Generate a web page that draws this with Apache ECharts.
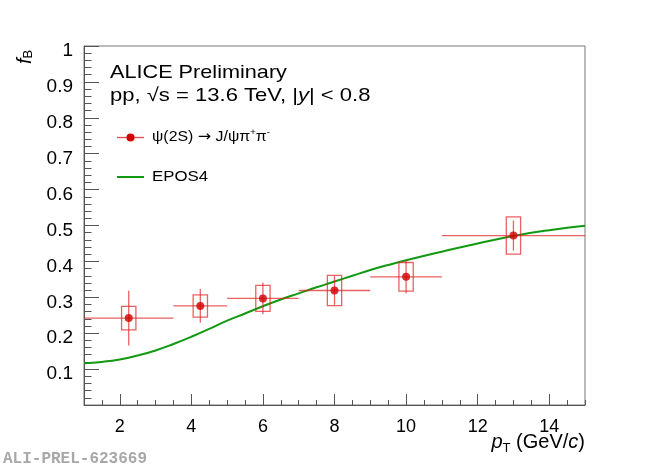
<!DOCTYPE html>
<html>
<head>
<meta charset="utf-8">
<script src="https://cdn.jsdelivr.net/npm/echarts@6/dist/echarts.min.js"></script>
<style>
html,body{margin:0;padding:0;background:#fff;}
#chart{width:650px;height:467px;}
</style>
</head>
<body>
<div id="chart"></div>
<script>
// ---- data ----
const ptCenter = [2.25, 4.25, 6, 8, 10, 13];
const ptLow    = [1, 3.5, 5, 7, 9, 11];
const ptHigh   = [3.5, 5, 7, 9, 11, 15];
const fB       = [0.242, 0.276, 0.297, 0.319, 0.357, 0.472];
const statErr  = [0.076, 0.047, 0.044, 0.040, 0.046, 0.042];
const systErr  = [0.033, 0.031, 0.036, 0.042, 0.040, 0.052];

const eposPt = [1, 1.5, 2, 2.5, 3, 3.5, 4, 4.5, 5, 5.5, 6, 6.5, 7, 7.5, 8, 8.5, 9, 9.5, 10, 11, 12, 13, 14, 15];
const eposFB = [0.116, 0.120, 0.127, 0.138, 0.152, 0.170, 0.190, 0.212, 0.235, 0.255, 0.275, 0.294, 0.311, 0.328, 0.344, 0.360, 0.376, 0.390, 0.403, 0.427, 0.450, 0.471, 0.487, 0.499];

const xMajorTicks = [2, 4, 6, 8, 10, 12, 14];
const yTickLabels = ['0.1','0.2','0.3','0.4','0.5','0.6','0.7','0.8','0.9','1'];

// ---- build ----
const FONT = '"Liberation Sans", Arial, Helvetica, sans-serif';
const axisCol = '#555';
const errCol = 'rgba(225,30,30,0.7)';
const markCol = '#d00000';
const green = '#119911';

const errData = ptCenter.map((x, i) => [x, fB[i], ptLow[i], ptHigh[i], statErr[i], systErr[i]]);
const markData = ptCenter.map((x, i) => [x, fB[i]]);
const eposData = eposPt.map((x, i) => [x, eposFB[i]]);

const chart = echarts.init(document.getElementById('chart'), null, {renderer: 'canvas'});

const option = {
  animation: false,
  backgroundColor: '#fff',
  grid: {left: 84, right: 65, top: 46, bottom: 62, show: true, borderColor: '#777', borderWidth: 1, backgroundColor: 'transparent'},
  xAxis: [
    {
      type: 'value', min: 1, max: 15, interval: 0.5, position: 'bottom',
      axisLine: {show: true, onZero: false, lineStyle: {color: axisCol, width: 1}},
      axisTick: {show: true, inside: true, length: 5, lineStyle: {color: axisCol}},
      axisLabel: {show: false},
      splitLine: {show: false}
    },
    {
      type: 'value', min: 1, max: 15, position: 'bottom',
      axisLine: {show: false, onZero: false},
      axisTick: {show: true, inside: true, length: 11, customValues: xMajorTicks, lineStyle: {color: axisCol}},
      axisLabel: {show: true, customValues: xMajorTicks, color: '#000', fontSize: 18, fontFamily: FONT, margin: 13},
      splitLine: {show: false}
    }
  ],
  yAxis: {
    type: 'value', min: 0, max: 1, interval: 0.1,
    axisLine: {show: true, onZero: false, lineStyle: {color: axisCol, width: 1}},
    axisTick: {show: true, inside: true, length: 15, lineStyle: {color: axisCol}},
    minorTick: {show: true, splitNumber: 5, length: 7.5, lineStyle: {color: axisCol}},
    axisLabel: {
      color: '#000', fontSize: 19, fontFamily: FONT, margin: 11, verticalAlign: 'top', lineHeight: 10,
      formatter: function (v) {
        const k = Math.round(v * 10);
        return k === 0 ? '' : yTickLabels[k - 1];
      }
    },
    splitLine: {show: false}
  },
  series: [
    {
      type: 'line', name: 'EPOS4', data: eposData, smooth: true, showSymbol: false, symbol: 'none',
      lineStyle: {color: green, width: 2}, z: 3
    },
    {
      type: 'custom', name: 'errors', data: errData, z: 4, clip: true,
      renderItem: function (params, api) {
        const x = api.value(0), y = api.value(1), xl = api.value(2), xh = api.value(3), st = api.value(4), sy = api.value(5);
        const pl = api.coord([xl, y]), ph = api.coord([xh, y]);
        const s1 = api.coord([x, y + st]), s2 = api.coord([x, y - st]);
        const b1 = api.coord([x - 0.2, y + sy]), b2 = api.coord([x + 0.2, y - sy]);
        const ls = {stroke: errCol, lineWidth: 1.3, fill: null};
        return {
          type: 'group',
          children: [
            {type: 'line', shape: {x1: pl[0], y1: pl[1], x2: ph[0], y2: ph[1]}, style: ls},
            {type: 'line', shape: {x1: s1[0], y1: s1[1], x2: s2[0], y2: s2[1]}, style: ls},
            {type: 'rect', shape: {x: b1[0], y: b1[1], width: b2[0] - b1[0], height: b2[1] - b1[1]}, style: ls}
          ]
        };
      }
    },
    {
      type: 'scatter', name: 'psi2S', data: markData, symbol: 'circle', symbolSize: 8,
      itemStyle: {color: markCol}, z: 5
    }
  ],
  graphic: [
    {type: 'text', x: 110, y: 73, scaleX: 1.14, style: {text: 'ALICE Preliminary', font: '19px ' + FONT, fill: '#000', verticalAlign: 'middle'}},
    {type: 'text', x: 110, y: 96, scaleX: 1.16, style: {
      text: 'pp, √s = 13.6 TeV, |{i|y}| < 0.8', font: '19px ' + FONT, fill: '#000', verticalAlign: 'middle',
      rich: {i: {fontStyle: 'italic', fontSize: 19, fontFamily: FONT}}
    }},
    {type: 'line', shape: {x1: 117, y1: 137.5, x2: 144, y2: 137.5}, style: {stroke: 'rgba(225,30,30,0.8)', lineWidth: 1.3}},
    {type: 'circle', shape: {cx: 130.5, cy: 137.5, r: 4}, style: {fill: markCol}},
    {type: 'text', x: 152, y: 137, scaleX: 1.06, style: {
      text: 'ψ(2S) {ar|→} J/ψπ{sup|+}π{sup|-}', font: '15px ' + FONT, fill: '#000', verticalAlign: 'middle',
      rich: {
        ar: {fontSize: 15, fontFamily: '"DejaVu Sans", sans-serif'},
        sup: {fontSize: 9, fontFamily: FONT, verticalAlign: 'top', lineHeight: 18}
      }
    }},
    {type: 'line', shape: {x1: 117, y1: 177, x2: 144, y2: 177}, style: {stroke: green, lineWidth: 2}},
    {type: 'text', x: 152, y: 177, scaleX: 1.12, style: {text: 'EPOS4', font: '15px ' + FONT, fill: '#000', verticalAlign: 'middle'}},
    {type: 'text', x: 25, y: 57, rotation: Math.PI / 2, style: {
      text: '{f|f}{b|B}', align: 'center', verticalAlign: 'middle',
      rich: {f: {fontSize: 20, fontStyle: 'italic', fontFamily: FONT, verticalAlign: 'top'}, b: {fontSize: 13, fontFamily: FONT, verticalAlign: 'bottom', padding: [6, 0, 0, 0]}}
    }},
    {type: 'text', x: 585, y: 442, style: {
      text: '{p|p}{t|T} (GeV/{c|c})', font: '20px ' + FONT, fill: '#000', align: 'right', verticalAlign: 'middle',
      rich: {p: {fontSize: 20, fontStyle: 'italic', fontFamily: FONT}, t: {fontSize: 13, fontFamily: FONT, verticalAlign: 'bottom', padding: [12, 0, 0, 0]}, c: {fontSize: 20, fontStyle: 'italic', fontFamily: FONT}}
    }},
    {type: 'text', x: 3, y: 459, style: {text: 'ALI-PREL-623669', font: 'bold 16px "Liberation Mono", "DejaVu Sans Mono", monospace', fill: '#a8a8a8', verticalAlign: 'middle'}}
  ]
};
chart.setOption(option);
</script>
</body>
</html>
